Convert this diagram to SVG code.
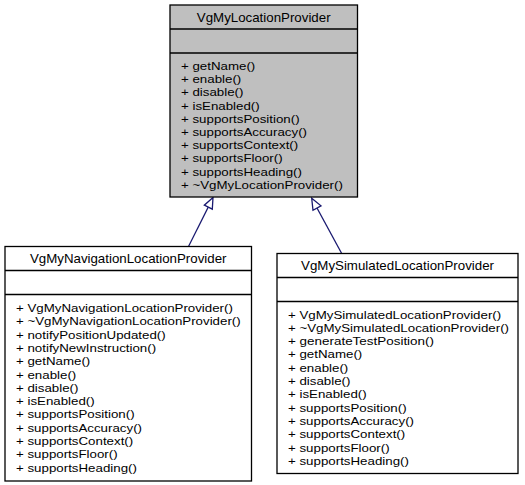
<svg xmlns="http://www.w3.org/2000/svg" width="525" height="485" viewBox="0 0 525 485">
<style>
text{font-family:"Liberation Sans",Arial,Helvetica,sans-serif;font-size:13.3px;fill:#000}
.t{text-anchor:middle}
.m{font-size:11.8px}
.box{fill:#fff;stroke:#000;stroke-width:1.3}
.base{fill:#bfbfbf}
.sep{stroke:#000;stroke-width:1.3}
.edge{fill:none;stroke:#191970;stroke-width:1.3}
.head{fill:#fff;stroke:#191970;stroke-width:1.3}
</style>
<rect width="525" height="485" fill="#fff"/>
<g id="connectors">
  <path class="edge" d="M188.5,246.5 L208.3,207"/>
  <polygon class="head" points="213,197.5 212.3,209.2 204.3,205.2"/>
  <path class="edge" d="M341.7,253.5 L317,208"/>
  <polygon class="head" points="311.7,198.3 321,205.8 313,210.2"/>
</g>
<g id="VgMyLocationProvider">
  <rect class="box base" x="170" y="5" width="187.5" height="192"/>
  <line class="sep" x1="170" y1="29" x2="357.5" y2="29"/>
  <line class="sep" x1="170" y1="53" x2="357.5" y2="53"/>
  <text class="t" x="263.7" y="21.5">VgMyLocationProvider</text>
  <text class="m" x="181" y="70" textLength="74.3" lengthAdjust="spacingAndGlyphs">+ getName()</text>
  <text class="m" x="181" y="83.2" textLength="60.3" lengthAdjust="spacingAndGlyphs">+ enable()</text>
  <text class="m" x="181" y="96.4" textLength="62.5" lengthAdjust="spacingAndGlyphs">+ disable()</text>
  <text class="m" x="181" y="109.6" textLength="78.7" lengthAdjust="spacingAndGlyphs">+ isEnabled()</text>
  <text class="m" x="181" y="122.8" textLength="118.6" lengthAdjust="spacingAndGlyphs">+ supportsPosition()</text>
  <text class="m" x="181" y="136" textLength="126" lengthAdjust="spacingAndGlyphs">+ supportsAccuracy()</text>
  <text class="m" x="181" y="149.2" textLength="117.2" lengthAdjust="spacingAndGlyphs">+ supportsContext()</text>
  <text class="m" x="181" y="162.4" textLength="101.6" lengthAdjust="spacingAndGlyphs">+ supportsFloor()</text>
  <text class="m" x="181" y="175.6" textLength="120.9" lengthAdjust="spacingAndGlyphs">+ supportsHeading()</text>
  <text class="m" x="181" y="188.8" textLength="161.9" lengthAdjust="spacingAndGlyphs">+ ~VgMyLocationProvider()</text>
</g>
<g id="VgMyNavigationLocationProvider">
  <rect class="box" x="5" y="246.5" width="246.5" height="234.5"/>
  <line class="sep" x1="5" y1="270.5" x2="251.5" y2="270.5"/>
  <line class="sep" x1="5" y1="294.5" x2="251.5" y2="294.5"/>
  <text class="t" x="128.2" y="263">VgMyNavigationLocationProvider</text>
  <text class="m" x="16" y="312" textLength="216.9" lengthAdjust="spacingAndGlyphs">+ VgMyNavigationLocationProvider()</text>
  <text class="m" x="16" y="325.3" textLength="224.7" lengthAdjust="spacingAndGlyphs">+ ~VgMyNavigationLocationProvider()</text>
  <text class="m" x="16" y="338.6" textLength="149.7" lengthAdjust="spacingAndGlyphs">+ notifyPositionUpdated()</text>
  <text class="m" x="16" y="351.9" textLength="140.1" lengthAdjust="spacingAndGlyphs">+ notifyNewInstruction()</text>
  <text class="m" x="16" y="365.2" textLength="74.3" lengthAdjust="spacingAndGlyphs">+ getName()</text>
  <text class="m" x="16" y="378.5" textLength="60.3" lengthAdjust="spacingAndGlyphs">+ enable()</text>
  <text class="m" x="16" y="391.8" textLength="62.5" lengthAdjust="spacingAndGlyphs">+ disable()</text>
  <text class="m" x="16" y="405.1" textLength="78.7" lengthAdjust="spacingAndGlyphs">+ isEnabled()</text>
  <text class="m" x="16" y="418.4" textLength="118.6" lengthAdjust="spacingAndGlyphs">+ supportsPosition()</text>
  <text class="m" x="16" y="431.7" textLength="126" lengthAdjust="spacingAndGlyphs">+ supportsAccuracy()</text>
  <text class="m" x="16" y="445" textLength="117.2" lengthAdjust="spacingAndGlyphs">+ supportsContext()</text>
  <text class="m" x="16" y="458.3" textLength="101.6" lengthAdjust="spacingAndGlyphs">+ supportsFloor()</text>
  <text class="m" x="16" y="471.6" textLength="120.9" lengthAdjust="spacingAndGlyphs">+ supportsHeading()</text>
</g>
<g id="VgMySimulatedLocationProvider">
  <rect class="box" x="277" y="253.5" width="241" height="220"/>
  <line class="sep" x1="277" y1="277.5" x2="518" y2="277.5"/>
  <line class="sep" x1="277" y1="301.5" x2="518" y2="301.5"/>
  <text class="t" x="397.5" y="270">VgMySimulatedLocationProvider</text>
  <text class="m" x="288" y="318.5" textLength="213.2" lengthAdjust="spacingAndGlyphs">+ VgMySimulatedLocationProvider()</text>
  <text class="m" x="288" y="331.8" textLength="221" lengthAdjust="spacingAndGlyphs">+ ~VgMySimulatedLocationProvider()</text>
  <text class="m" x="288" y="345.1" textLength="146" lengthAdjust="spacingAndGlyphs">+ generateTestPosition()</text>
  <text class="m" x="288" y="358.4" textLength="74.3" lengthAdjust="spacingAndGlyphs">+ getName()</text>
  <text class="m" x="288" y="371.7" textLength="60.3" lengthAdjust="spacingAndGlyphs">+ enable()</text>
  <text class="m" x="288" y="385" textLength="62.5" lengthAdjust="spacingAndGlyphs">+ disable()</text>
  <text class="m" x="288" y="398.3" textLength="78.7" lengthAdjust="spacingAndGlyphs">+ isEnabled()</text>
  <text class="m" x="288" y="411.6" textLength="118.6" lengthAdjust="spacingAndGlyphs">+ supportsPosition()</text>
  <text class="m" x="288" y="424.9" textLength="126" lengthAdjust="spacingAndGlyphs">+ supportsAccuracy()</text>
  <text class="m" x="288" y="438.2" textLength="117.2" lengthAdjust="spacingAndGlyphs">+ supportsContext()</text>
  <text class="m" x="288" y="451.5" textLength="101.6" lengthAdjust="spacingAndGlyphs">+ supportsFloor()</text>
  <text class="m" x="288" y="464.8" textLength="120.9" lengthAdjust="spacingAndGlyphs">+ supportsHeading()</text>
</g>
</svg>
